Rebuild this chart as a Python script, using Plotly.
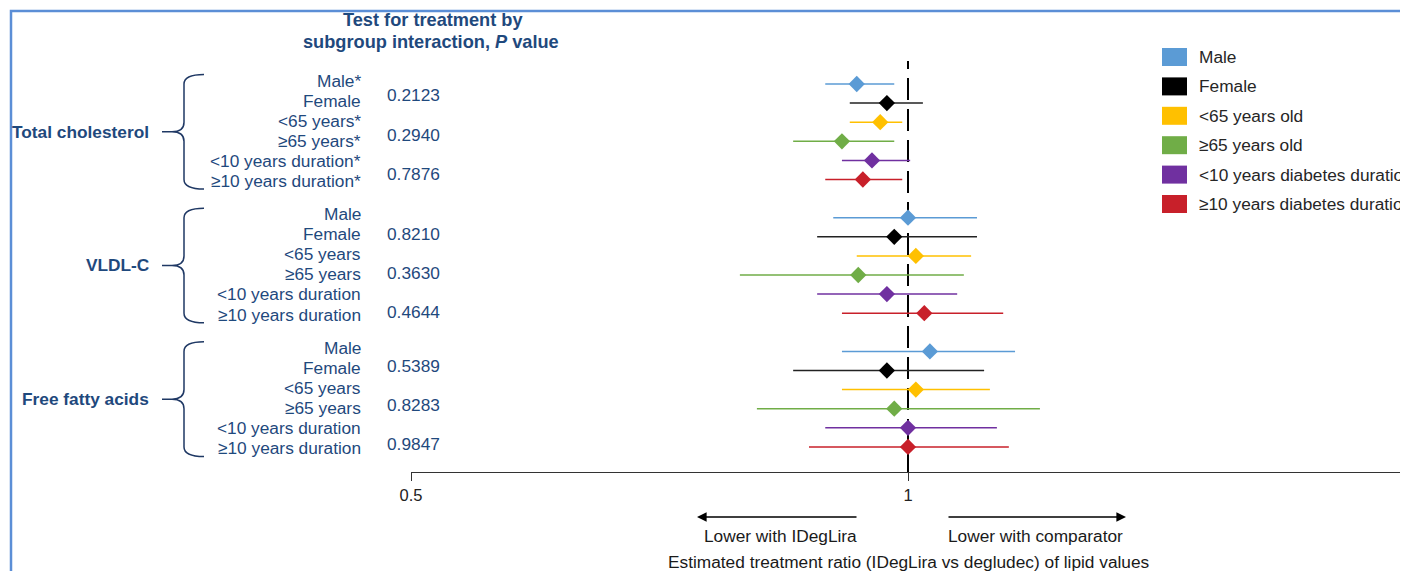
import plotly.graph_objects as go

# ---------------- data ----------------
lipids = ["Total cholesterol", "VLDL-C", "Free fatty acids"]
subgroups = ["Male", "Female", "<65 years old", "≥65 years old",
             "<10 years diabetes duration", "≥10 years diabetes duration"]
colors = ["#5B9BD5", "#000000", "#FFC000", "#70AD47", "#7030A0", "#C8202A"]

tc_labels = ["Male*", "Female", "<65 years*", "≥65 years*", "<10 years duration*", "≥10 years duration*"]
vldl_labels = ["Male", "Female", "<65 years", "≥65 years", "<10 years duration", "≥10 years duration"]
ffa_labels = ["Male", "Female", "<65 years", "≥65 years", "<10 years duration", "≥10 years duration"]

tc_p = ["0.2123", "0.2940", "0.7876"]
vldl_p = ["0.8210", "0.3630", "0.4644"]
ffa_p = ["0.5389", "0.8283", "0.9847"]

tc_est = [0.931, 0.971, 0.962, 0.912, 0.951, 0.939]
tc_lo = [0.891, 0.922, 0.922, 0.852, 0.912, 0.891]
tc_hi = [0.981, 1.021, 0.992, 0.981, 1.003, 0.992]

vldl_est = [1.000, 0.981, 1.011, 0.933, 0.971, 1.023]
vldl_lo = [0.901, 0.881, 0.931, 0.791, 0.881, 0.912]
vldl_hi = [1.101, 1.101, 1.092, 1.081, 1.071, 1.142]

ffa_est = [1.031, 0.971, 1.011, 0.981, 1.000, 1.000]
ffa_lo = [0.912, 0.852, 0.912, 0.810, 0.891, 0.871]
ffa_hi = [1.161, 1.112, 1.121, 1.202, 1.132, 1.151]

tick_vals = [0.5, 1, 2]
tick_text = ["0.5", "1", "2"]

header_lines = ["<b>Test for treatment by</b>", "<b>subgroup interaction, <i>P</i> value</b>"]
arrow_left_text = "Lower with IDegLira"
arrow_right_text = "Lower with comparator"
x_title = "Estimated treatment ratio (IDegLira vs degludec) of lipid values"

estimates = [tc_est, vldl_est, ffa_est]
lows = [tc_lo, vldl_lo, ffa_lo]
highs = [tc_hi, vldl_hi, ffa_hi]
labels = [tc_labels, vldl_labels, ffa_labels]
pvals = [tc_p, vldl_p, ffa_p]

# ---------------- layout helpers ----------------
# page body has an 8px margin; design in window pixels, figure starts at (8, 8)
OFF = 8
WIN_W, WIN_H = 1408, 571
W, H = WIN_W - OFF, WIN_H - OFF
PLOT_L, PLOT_R, PLOT_T, PLOT_B = 411, 1405, 61, 472   # window pixels
L = PLOT_L - OFF
R = W - (PLOT_R - OFF)
T = PLOT_T - OFF
B = H - (PLOT_B - OFF)
PW = PLOT_R - PLOT_L
PH = PLOT_B - PLOT_T
GROUP_STEP = 7
ROW_PX = 19.1
FIRST_PX = 84
P_OFFSETS = [0.6, 0.85, 0.76]


def px_x(p):
    return (p - PLOT_L) / PW


def px_y(p):
    return (PLOT_B - p) / PH


def s_of(p):
    return (p - FIRST_PX) / ROW_PX


LBL = "#1F497D"
FONT = "Liberation Sans, Arial, sans-serif"
FS = 17.3

fig = go.Figure()

for i, sg in enumerate(subgroups):
    xs, ys, plus, minus = [], [], [], []
    for g in range(len(lipids)):
        e = estimates[g][i]
        xs.append(e)
        ys.append(g * GROUP_STEP + i)
        plus.append(highs[g][i] - e)
        minus.append(e - lows[g][i])
    fig.add_trace(go.Scatter(
        x=xs, y=ys, mode="markers", name=sg, showlegend=False,
        marker=dict(symbol="diamond", size=12.5, color=colors[i], line=dict(width=0)),
        error_x=dict(type="data", array=plus, arrayminus=minus, symmetric=False,
                     color=colors[i] if i != 1 else "#222222", thickness=1.5, width=0),
    ))

shapes = []
annotations = []

# reference line at 1
shapes.append(dict(type="line", xref="x", yref="paper", x0=1, x1=1, y0=0, y1=1,
                   line=dict(color="black", width=2, dash="22px,9px"), layer="below"))

# outer frame
shapes.append(dict(type="rect", xref="paper", yref="paper",
                   x0=px_x(11), x1=px_x(1500), y0=px_y(700), y1=px_y(11),
                   line=dict(color="#5B8ED6", width=2.5), fillcolor="rgba(0,0,0,0)", layer="above"))

# header
annotations.append(dict(text=header_lines[0], xref="paper", yref="paper", x=px_x(433), y=px_y(20),
                        xanchor="center", yanchor="middle", showarrow=False,
                        font=dict(family=FONT, size=18.2, color=LBL)))
annotations.append(dict(text=header_lines[1], xref="paper", yref="paper", x=px_x(431), y=px_y(42),
                        xanchor="center", yanchor="middle", showarrow=False,
                        font=dict(family=FONT, size=18.2, color=LBL)))

xe, xv, xk, xt = px_x(204), px_x(184), px_x(172), px_x(162)
for g, lip in enumerate(lipids):
    base = g * GROUP_STEP
    # row labels
    for r, lab in enumerate(labels[g]):
        annotations.append(dict(text=lab, xref="paper", yref="y", x=px_x(363),
                                y=base - 0.18 + r * 1.05, xanchor="right", yanchor="middle",
                                showarrow=False, font=dict(family=FONT, size=FS, color=LBL)))
    # p values
    for k, pv in enumerate(pvals[g]):
        annotations.append(dict(text=pv, xref="paper", yref="y", x=px_x(385),
                                y=base + P_OFFSETS[g] + k * 2.05, xanchor="left", yanchor="middle",
                                showarrow=False, font=dict(family=FONT, size=FS, color=LBL)))
    # group label
    annotations.append(dict(text="<b>" + lip + "</b>", xref="paper", yref="y", x=px_x(151),
                            y=base + 2.5, xanchor="right", yanchor="middle", showarrow=False,
                            font=dict(family=FONT, size=FS, color=LBL)))
    # brace
    top, bot, mid = base - 0.5, base + 5.5, base + 2.5
    r = 0.5
    path = (f"M {xe},{top} Q {xv},{top} {xv},{top + r} "
            f"L {xv},{mid - r} Q {xv},{mid} {xk},{mid} L {xt},{mid} "
            f"M {xk},{mid} Q {xv},{mid} {xv},{mid + r} "
            f"L {xv},{bot - r} Q {xv},{bot} {xe},{bot}")
    shapes.append(dict(type="path", xref="paper", yref="y", path=path,
                       line=dict(color="#1F3864", width=1.5)))

# legend (manual)
for i, sg in enumerate(subgroups):
    cy = 57 + i * 29.4
    shapes.append(dict(type="rect", xref="paper", yref="paper",
                       x0=px_x(1162), x1=px_x(1187), y0=px_y(cy + 9), y1=px_y(cy - 9),
                       fillcolor=colors[i], line=dict(width=0)))
    annotations.append(dict(text=sg, xref="paper", yref="paper", x=px_x(1197), y=px_y(cy),
                            xanchor="left", yanchor="middle", showarrow=False,
                            font=dict(family=FONT, size=FS, color="#262626")))

# direction arrows
annotations.append(dict(text="", xref="paper", yref="paper", x=px_x(697), y=px_y(517),
                        ax=858 - 697, ay=0, axref="pixel", ayref="pixel", showarrow=True,
                        arrowhead=2, arrowsize=1.2, arrowwidth=1.6, arrowcolor="black"))
annotations.append(dict(text="", xref="paper", yref="paper", x=px_x(1126), y=px_y(517),
                        ax=947 - 1126, ay=0, axref="pixel", ayref="pixel", showarrow=True,
                        arrowhead=2, arrowsize=1.2, arrowwidth=1.6, arrowcolor="black"))
annotations.append(dict(text=arrow_left_text, xref="paper", yref="paper", x=px_x(780), y=px_y(536),
                        xanchor="center", yanchor="middle", showarrow=False,
                        font=dict(family=FONT, size=FS, color="#1a1a1a")))
annotations.append(dict(text=arrow_right_text, xref="paper", yref="paper", x=px_x(1035), y=px_y(536),
                        xanchor="center", yanchor="middle", showarrow=False,
                        font=dict(family=FONT, size=FS, color="#1a1a1a")))
annotations.append(dict(text=x_title, xref="paper", yref="paper", x=px_x(909), y=px_y(562),
                        xanchor="center", yanchor="middle", showarrow=False,
                        font=dict(family=FONT, size=FS, color="#1a1a1a")))

fig.update_layout(
    width=W, height=H,
    margin=dict(l=L, r=R, t=T, b=B, pad=0),
    paper_bgcolor="white", plot_bgcolor="white",
    showlegend=False,
    shapes=shapes, annotations=annotations,
    xaxis=dict(type="log", range=[-0.30103, 0.30103], tickvals=tick_vals, ticktext=tick_text,
               showgrid=False, zeroline=False, showline=True, linecolor="#333333", linewidth=1.2,
               ticks="outside", ticklen=8, tickcolor="#333333", tickwidth=1.2,
               tickfont=dict(family=FONT, size=16.5, color="#222222")),
    yaxis=dict(range=[s_of(PLOT_B), s_of(PLOT_T)], showgrid=False, zeroline=False,
               showticklabels=False, showline=False, ticks=""),
)

fig.write_html("out.html")
